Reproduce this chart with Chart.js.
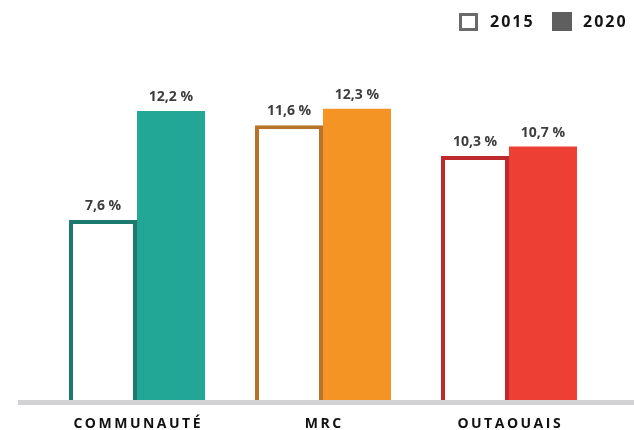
<!DOCTYPE html>
<html><head><meta charset="utf-8">
<script src="https://cdn.jsdelivr.net/npm/chart.js@4"></script>
<style>html,body{margin:0;padding:0;background:#fff;}canvas{display:block;}</style>
</head><body>
<canvas id="c" width="634" height="430"></canvas>
<script>
const categories = ["COMMUNAUTÉ", "MRC", "OUTAOUAIS"];
const series2015 = [7.6, 11.6, 10.3];
const series2020 = [12.2, 12.3, 10.7];
const seriesNames = ["2015", "2020"];
const borderColors2015 = ["#1b7a6d", "#b8732a", "#be2a2c"];
const fillColors2020 = ["#22a696", "#f39424", "#ee3f35"];

function fmt(v){ return v.toFixed(1).replace('.', ',') + ' %'; }

const decorPlugin = {
  id: 'decor',
  beforeDatasetsDraw(chart){
    const ctx = chart.ctx;
    const y0 = chart.scales.y.getPixelForValue(0);
    ctx.save();
    ctx.fillStyle = '#d2d2d4';
    ctx.fillRect(18, y0, chart.width - 18, 5);
    ctx.restore();
  },
  afterDatasetsDraw(chart){
    const ctx = chart.ctx;
    ctx.save();
    ctx.font = 'bold 14px "Open Sans"';
    ctx.fillStyle = '#3d3d3d';
    ctx.textAlign = 'center';
    ctx.textBaseline = 'alphabetic';
    chart.data.datasets.forEach((ds, di) => {
      chart.getDatasetMeta(di).data.forEach((bar, i) => {
        ctx.fillText(fmt(ds.data[i]), bar.x, bar.y - 10);
      });
    });
    // category labels
    const xs = chart.scales.x;
    ctx.font = 'bold 14px "Open Sans"';
    ctx.fillStyle = '#111';
    ctx.letterSpacing = '2.5px';
    ctx.textBaseline = 'middle';
    categories.forEach((c, i) => {
      ctx.fillText(c, xs.getPixelForValue(i) + 1.25, 424);
    });
    // legend
    ctx.textAlign = 'left';
    ctx.font = 'bold 16px "Open Sans"';
    ctx.letterSpacing = '2px';
    ctx.fillStyle = '#ffffff';
    ctx.fillRect(459, 13, 19, 18);
    ctx.strokeStyle = '#6a6a6a';
    ctx.lineWidth = 3;
    ctx.strokeRect(460.5, 14.5, 16, 15);
    ctx.fillStyle = '#5f5f5f';
    ctx.fillRect(552, 12, 20, 19);
    ctx.fillStyle = '#151515';
    ctx.textBaseline = 'middle';
    ctx.fillText(seriesNames[0], 490, 22);
    ctx.fillText(seriesNames[1], 583, 22);
    ctx.restore();
  }
};

new Chart(document.getElementById('c'), {
  type: 'bar',
  data: {
    labels: categories,
    datasets: [
      { label: seriesNames[0], data: series2015, backgroundColor: '#ffffff',
        borderColor: borderColors2015, borderWidth: 4, borderSkipped: 'bottom' },
      { label: seriesNames[1], data: series2020, backgroundColor: fillColors2020,
        borderWidth: 0 }
    ]
  },
  options: {
    responsive: false,
    animation: false,
    devicePixelRatio: 1,
    layout: { padding: { left: 44, right: 32, top: 21, bottom: 30 } },
    datasets: { bar: { barPercentage: 1, categoryPercentage: 0.731 } },
    scales: {
      x: { display: false },
      y: { display: false, min: 0, max: 16 }
    },
    plugins: { legend: { display: false }, tooltip: { enabled: false } }
  },
  plugins: [decorPlugin]
});
</script>
</body></html>
